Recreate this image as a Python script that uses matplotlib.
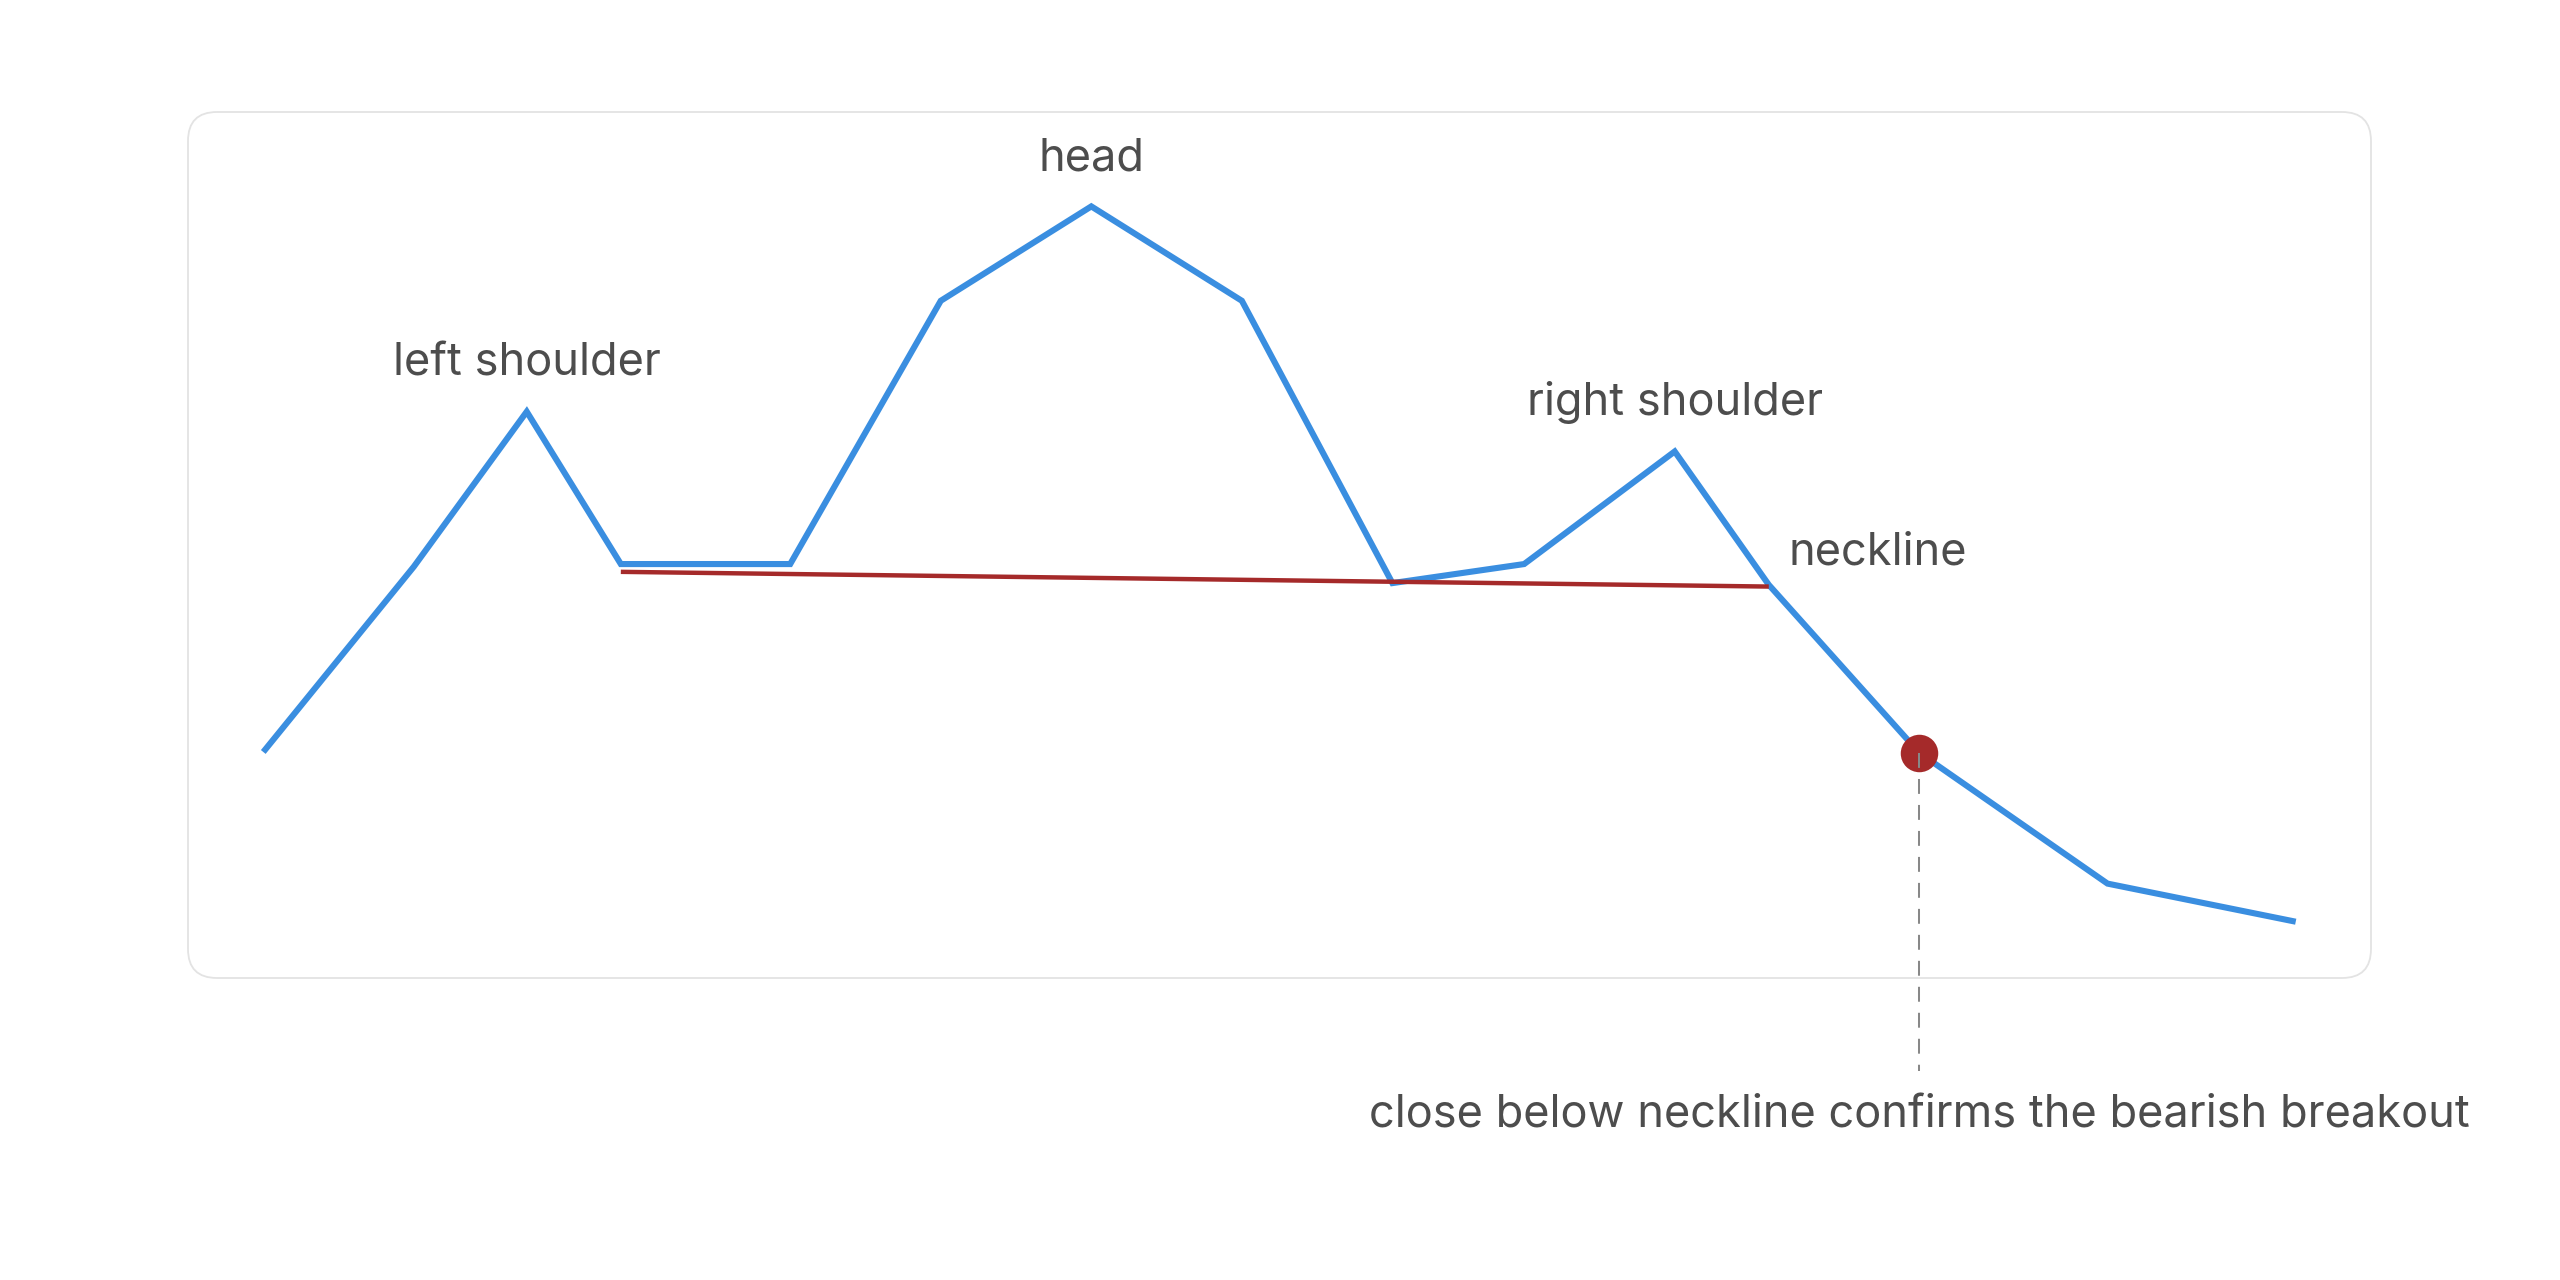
import matplotlib
matplotlib.use("Agg")
import matplotlib.pyplot as plt
from matplotlib.patches import FancyBboxPatch

# ---- data ----
days = [0, 8, 14, 19, 28, 36, 44, 52, 60, 67, 75, 80, 88, 98, 108]
price = [26.1, 47.5, 65.4, 47.8, 47.8, 78.2, 89.1, 78.2, 45.6, 47.8, 60.8, 45.4, 26.0, 10.9, 6.5]

neck_days = [19, 80]
neck_price = [46.9, 45.2]

breakout_day = 88
breakout_price = 26.0

peak_labels = ["left shoulder", "head", "right shoulder"]
peak_days = [14, 44, 75]
peak_prices = [65.4, 89.1, 60.8]

neck_label = "neckline"
breakout_label = "close below neckline confirms the bearish breakout"

# ---- styles ----
BLUE = "#3a8ee0"
RED = "#a52a2a"
TEXT = "#4d4d4d"
FONT = ["Inter", "DejaVu Sans"]
FS = 32.5

plt.rcParams["font.family"] = FONT

W, H, DPI = 25.6, 12.8, 100
fig = plt.figure(figsize=(W, H), dpi=DPI)
fig.patch.set_facecolor("white")

# panel box in pixels
left_px, right_px, top_px, bot_px = 188, 2371, 112, 978
ax = fig.add_axes([left_px / 2560, 1 - bot_px / 1280,
                   (right_px - left_px) / 2560, (bot_px - top_px) / 1280])
ax.set_xlim(-4, 112)
ax.set_ylim(0, 100)
ax.axis("off")

box = FancyBboxPatch((left_px / DPI, (1280 - bot_px) / DPI),
                     (right_px - left_px) / DPI, (bot_px - top_px) / DPI,
                     boxstyle="round,pad=0,rounding_size=0.29",
                     transform=fig.dpi_scale_trans,
                     facecolor="white", edgecolor="#e3e3e3", linewidth=1.3,
                     zorder=0)
fig.add_artist(box)
ax.set_zorder(1)
ax.patch.set_alpha(0)

ax.plot(days, price, color=BLUE, lw=4.4, solid_capstyle="butt",
        solid_joinstyle="miter", zorder=2)
ax.plot(neck_days, neck_price, color=RED, lw=3.2, solid_capstyle="butt", zorder=3)
ax.plot([breakout_day], [breakout_price], "o", color=RED, ms=27, mew=0, zorder=4)
ax.plot([breakout_day, breakout_day], [breakout_price, -10.7], color="#888888",
        lw=1.45, ls=(0, (7.4, 5.5)), clip_on=False, zorder=5)

for lab, d, p in zip(peak_labels, peak_days, peak_prices):
    ax.annotate(lab, (d, p), xytext=(0, 26), textcoords="offset points",
                ha="center", va="baseline", fontsize=FS, color=TEXT)

ax.annotate(neck_label, (neck_days[-1], neck_price[-1]), xytext=(14.5, 16),
            textcoords="offset points", ha="left", va="baseline",
            fontsize=FS, color=TEXT)

ax.annotate(breakout_label, (breakout_day, breakout_price), xytext=(breakout_day, -17.3),
            textcoords="data", ha="center", va="baseline", fontsize=FS,
            color=TEXT, annotation_clip=False)

fig.savefig("out.png", dpi=DPI, facecolor="white")
